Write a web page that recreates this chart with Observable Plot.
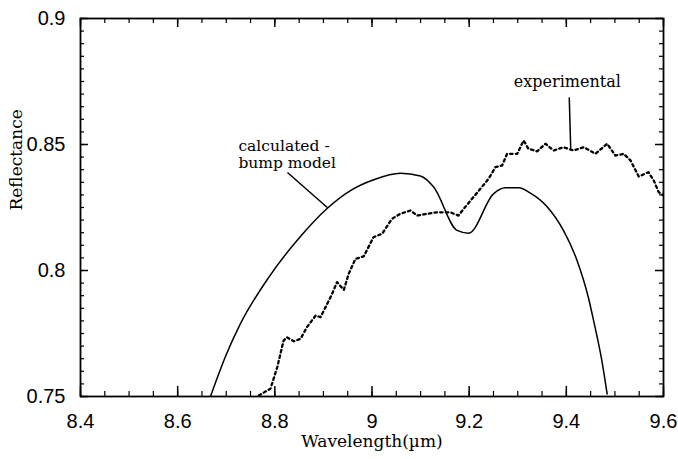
<!DOCTYPE html>
<html>
<head>
<meta charset="utf-8">
<script src="https://cdn.jsdelivr.net/npm/d3@7"></script>
<script src="https://cdn.jsdelivr.net/npm/@observablehq/plot@0.6"></script>
<style>
  html, body { margin: 0; padding: 0; background: #fff; }
  #chart svg { display: block; }
</style>
</head>
<body>
<div id="chart"></div>
<script>
// Calculated (bump model) reflectance
const calcX = [8.6675, 8.6984, 8.729, 8.7875, 8.8527, 8.9076, 8.9556, 9.0035, 9.0584, 9.0996, 9.127, 9.175, 9.199, 9.250, 9.2745, 9.302, 9.326, 9.360, 9.394, 9.422, 9.446, 9.456, 9.473, 9.484];
const calcY = [0.750, 0.7659, 0.7788, 0.7973, 0.8135, 0.8246, 0.8317, 0.8360, 0.8386, 0.8375, 0.8331, 0.8159, 0.8148, 0.8304, 0.8328, 0.8328, 0.8307, 0.8254, 0.8159, 0.8040, 0.7888, 0.7802, 0.7643, 0.751];

// Experimental reflectance
const expX = [8.767, 8.791, 8.805, 8.818, 8.825, 8.839, 8.853, 8.866, 8.884, 8.894, 8.908, 8.918, 8.928, 8.942, 8.952, 8.966, 8.983, 9.003, 9.021, 9.041, 9.058, 9.079, 9.093, 9.113, 9.134, 9.148, 9.161, 9.178, 9.189, 9.206, 9.220, 9.240, 9.254, 9.268, 9.278, 9.299, 9.312, 9.322, 9.340, 9.357, 9.374, 9.394, 9.415, 9.436, 9.460, 9.484, 9.501, 9.518, 9.532, 9.549, 9.569, 9.580, 9.590, 9.600];
const expY = [0.7504, 0.7531, 0.7616, 0.7722, 0.7735, 0.7719, 0.7729, 0.7775, 0.7821, 0.7815, 0.7868, 0.7908, 0.7954, 0.7923, 0.7987, 0.8046, 0.8056, 0.8132, 0.8146, 0.8205, 0.8225, 0.8238, 0.8218, 0.8225, 0.8231, 0.8231, 0.8231, 0.8218, 0.8245, 0.8285, 0.8317, 0.8364, 0.8410, 0.8417, 0.8463, 0.8463, 0.8516, 0.8483, 0.8473, 0.8503, 0.8476, 0.8489, 0.8476, 0.8489, 0.8463, 0.8503, 0.8456, 0.8463, 0.8437, 0.8373, 0.8390, 0.8357, 0.8311, 0.8298];

// Tick values
const xMajor = [8.4, 8.6, 8.8, 9.0, 9.2, 9.4, 9.6];
const xMinor = d3.range(0, 25).map(i => +(8.4 + i * 0.05).toFixed(2));
const yMajor = [0.75, 0.8, 0.85, 0.9];
const yMinor = d3.range(0, 31).map(i => +(0.75 + i * 0.005).toFixed(3));
const xTickLabels = ["8.4", "8.6", "8.8", "9", "9.2", "9.4", "9.6"];
const yTickLabels = ["0.75", "0.8", "0.85", "0.9"];

// Annotation labels
const calcLabel = [
  {x: 8.725, y: 0.8492, text: "calculated -"},
  {x: 8.725, y: 0.8425, text: "bump model"}
];
const expLabel = [{x: 9.402, y: 0.8750, text: "experimental"}];
const leaders = [
  {x1: 8.826, y1: 0.8389, x2: 8.908, y2: 0.8250},
  {x1: 9.406, y1: 0.8687, x2: 9.409, y2: 0.8484}
];

const calc = calcX.map((x, i) => ({x, y: calcY[i]}));
const expt = expX.map((x, i) => ({x, y: expY[i]}));

const serif = "'DejaVu Serif', 'Liberation Serif', serif";
const sans = "'Liberation Sans', Arial, sans-serif";

const W = 678, H = 459, ML = 80, MR = 15, MT = 18, MB = 63;
const FW = W - ML - MR, FH = H - MT - MB;
// inward tick marks as short rules inset from the frame
const tickX = (vals, where, len, sw) => Plot.ruleX(vals, {x: d => d, stroke: "#000", strokeWidth: sw,
  ...(where === "bottom" ? {insetTop: FH - len} : {insetBottom: FH - len})});
const tickY = (vals, where, len, sw) => Plot.ruleY(vals, {y: d => d, stroke: "#000", strokeWidth: sw,
  ...(where === "left" ? {insetRight: FW - len} : {insetLeft: FW - len})});

const chart = Plot.plot({
  width: W,
  height: H,
  marginLeft: ML,
  marginRight: MR,
  marginTop: MT,
  marginBottom: MB,
  style: {fontFamily: sans, background: "#fff", color: "#000"},
  x: {domain: [8.4, 9.6]},
  y: {domain: [0.75, 0.9]},
  marks: [
    // frame first, unfilled
    Plot.frame({stroke: "#000", fill: "none", strokeWidth: 1.8}),
    // inward ticks: bottom, top, left, right
    tickX(xMinor, "bottom", 5, 1.2),
    tickX(xMajor, "bottom", 10, 1.5),
    tickX(xMinor, "top", 5, 1.2),
    tickX(xMajor, "top", 9, 1.5),
    tickY(yMinor, "left", 4, 1.2),
    tickY(yMajor, "left", 8, 1.5),
    tickY(yMinor, "right", 4, 1.2),
    tickY(yMajor, "right", 8, 1.5),
    // tick labels
    Plot.axisX(xMajor, {anchor: "bottom", tickSize: 0, tickPadding: 17, tickFormat: (d, i) => xTickLabels[i], label: null, fontSize: 20, fill: "#000"}),
    Plot.axisY(yMajor, {anchor: "left", tickSize: 0, tickPadding: 15, tickFormat: (d, i) => yTickLabels[i], label: null, fontSize: 20, fill: "#000"}),
    // data
    Plot.line(calc, {x: "x", y: "y", curve: "monotone-x", stroke: "#000", strokeWidth: 1.5, clip: true}),
    Plot.line(expt, {x: "x", y: "y", curve: "linear", stroke: "#000", strokeWidth: 2.3, strokeDasharray: "2.5,3.2", clip: true}),
    // annotations
    Plot.link(leaders, {x1: "x1", y1: "y1", x2: "x2", y2: "y2", stroke: "#000", strokeWidth: 1.5}),
    Plot.text(calcLabel, {x: "x", y: "y", text: "text", textAnchor: "start", fontFamily: serif, fontSize: 15.5, fill: "#000"}),
    Plot.text(expLabel, {x: "x", y: "y", text: "text", textAnchor: "middle", fontFamily: serif, fontSize: 16, fill: "#000"}),
    // axis titles
    Plot.text(["Wavelength(\u00b5m)"], {frameAnchor: "bottom", dy: 50, fontFamily: serif, fontSize: 17, fill: "#000"}),
    Plot.text(["Reflectance"], {frameAnchor: "left", dx: -64, dy: 3, rotate: -90, fontFamily: serif, fontSize: 17, fill: "#000"})
  ]
});

document.getElementById("chart").appendChild(chart);
</script>
</body>
</html>
